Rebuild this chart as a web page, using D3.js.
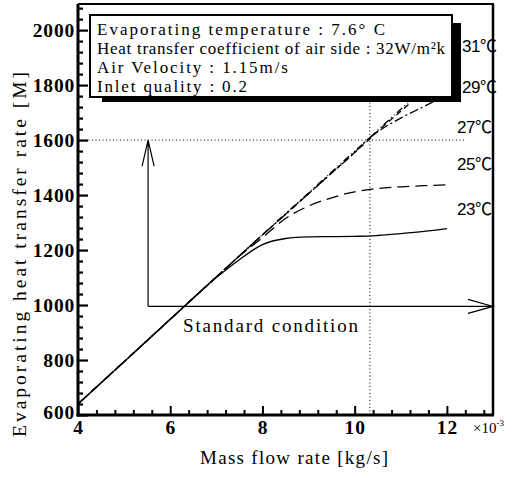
<!DOCTYPE html>
<html><head><meta charset="utf-8">
<script src="https://cdn.jsdelivr.net/npm/d3@7"></script>
<style>
html,body{margin:0;padding:0;background:#fff;}
svg{display:block;}
</style></head>
<body>
<svg id="c" width="518" height="479"></svg>
<script>
// ---- data ----
const massFlow = [4, 5, 6, 7, 7.5, 8, 8.5, 9, 9.5, 10, 10.3, 10.5, 11, 11.5, 12];
const q23 = [640, 794, 948, 1100, 1165, 1220, 1242, 1248, 1249, 1250, 1251, 1253, 1260, 1268, 1278];
const q25 = [640, 794, 948, 1102, 1178, 1245, 1315, 1360, 1390, 1412, 1420, 1424, 1430, 1434, 1437];
const q27 = [640, 794, 948, 1102, 1179, 1255, 1330, 1405, 1480, 1555, 1605, 1630, 1680, 1722, 1765];
const q29 = [640, 794, 948, 1102, 1179, 1255, 1330, 1405, 1480, 1555, 1600, 1632, 1705, 1778, 1850];
const q31 = [640, 794, 948, 1102, 1179, 1256, 1332, 1408, 1484, 1560, 1604, 1636, 1712, 1788, 1864];
const seriesNames = ["23℃", "25℃", "27℃", "29℃", "31℃"];
const xTicks = [4, 6, 8, 10, 12];
const yTicks = [600, 800, 1000, 1200, 1400, 1600, 1800, 2000];
const legendLines = ["Evaporating temperature : 7.6° C",
  "Heat transfer coefficient of air side : 32W/m²k",
  "Air Velocity : 1.15m/s",
  "Inlet quality : 0.2"];
const stdPoint = {x: 10.33, y: 1600};
const stdArrow = {x0: 5.52, y0: 995, yTop: 1600, xEnd: 13};

// ---- layout ----
const svg = d3.select("#c");
const L = 78, R = 493, T = 4, B = 415;
const x = d3.scaleLinear().domain([4, 13]).range([L, R]);
const y = d3.scaleLinear().domain([600, 2095]).range([B, T]);
const serif = "'Liberation Serif', 'Times New Roman', serif";

// widen text to a target width with letter spacing (reference face is wider than Times)
function spread(sel, w) {
  const n = sel.node();
  const len = n.getComputedTextLength();
  const chars = sel.text().length;
  if (len > 0 && chars > 1) sel.attr("letter-spacing", Math.max(-0.5, (w - len) / (chars - 1)).toFixed(2));
  return sel;
}

// dotted crosshair
svg.append("line").attr("x1", x(4)).attr("x2", x(12.37)).attr("y1", y(stdPoint.y)).attr("y2", y(stdPoint.y))
  .attr("stroke", "#000").attr("stroke-width", 1).attr("stroke-dasharray", "1,2.5");
svg.append("line").attr("x1", x(stdPoint.x)).attr("x2", x(stdPoint.x)).attr("y1", y(600)).attr("y2", y(1850))
  .attr("stroke", "#000").attr("stroke-width", 1).attr("stroke-dasharray", "1,2.5");

// curves
const line = d3.line().x((d, i) => x(massFlow[i])).y(d => y(d)).curve(d3.curveMonotoneX);
const styles = [
  {data: q31, dash: "7,3,1,3,1,3"},
  {data: q29, dash: "6,4"},
  {data: q27, dash: "9,3,2,3"},
  {data: q25, dash: "12,6"},
  {data: q23, dash: null}
];
styles.forEach(s => {
  svg.append("path").attr("d", line(s.data)).attr("fill", "none").attr("stroke", "#000")
    .attr("stroke-width", 1.3).attr("stroke-dasharray", s.dash);
});

// standard condition arrows
const ax = x(stdArrow.x0), ay = y(stdArrow.y0);
svg.append("path").attr("d", `M${ax},${ay}V${y(stdArrow.yTop)}M${ax - 6},${y(stdArrow.yTop) + 26}L${ax},${y(stdArrow.yTop)}L${ax + 6},${y(stdArrow.yTop) + 26}`)
  .attr("fill", "none").attr("stroke", "#000").attr("stroke-width", 1.2);
const xe = x(stdArrow.xEnd);
svg.append("path").attr("d", `M${ax},${ay}H${xe}M${xe - 25},${ay - 7}L${xe},${ay}L${xe - 25},${ay + 7}`)
  .attr("fill", "none").attr("stroke", "#000").attr("stroke-width", 1.2);
spread(svg.append("text").attr("x", 183).attr("y", 332).attr("font-family", serif).attr("font-size", 19)
  .text("Standard condition"), 175);

// legend box
svg.append("rect").attr("x", 452).attr("y", 23).attr("width", 9).attr("height", 79).attr("fill", "#000");
svg.append("rect").attr("x", 102).attr("y", 96).attr("width", 359).attr("height", 6).attr("fill", "#000");
svg.append("rect").attr("x", 90).attr("y", 15).attr("width", 362).attr("height", 82)
  .attr("fill", "#fff").attr("stroke", "#000").attr("stroke-width", 2);
const legW = [288, 348, 191, 150];
legendLines.forEach((t, i) => spread(svg.append("text").attr("x", 97).attr("y", 35 + i * 19)
  .attr("font-family", serif).attr("font-size", 17).text(t), legW[i]));

// series labels
const labelPos = [{x: 457, y: 215}, {x: 457, y: 170}, {x: 457, y: 133}, {x: 462, y: 93}, {x: 462, y: 52}];
seriesNames.forEach((n, i) => {
  svg.append("text").attr("x", labelPos[i].x).attr("y", labelPos[i].y)
    .attr("font-family", "'Liberation Sans', 'Noto Sans CJK JP', sans-serif").attr("font-size", 17)
    .attr("letter-spacing", -0.5).text(n);
});

// axes
const yMinor = d3.range(600, 2095, 40).filter(v => v % 200 !== 0);
const xMinor = d3.range(0, 23).map(i => 4 + i * 0.4).filter(v => Math.abs(v / 2 - Math.round(v / 2)) > 0.01 && v < 13);
const gy = svg.append("g").attr("transform", `translate(${L},0)`);
gy.call(d3.axisLeft(y).tickValues(yMinor).tickSize(-5).tickFormat(""));
gy.select(".domain").remove();
const gy2 = svg.append("g").attr("transform", `translate(${L},0)`);
gy2.call(d3.axisLeft(y).tickValues(yTicks).tickSize(-10).tickPadding(3).tickFormat(d3.format("d")));
gy2.select(".domain").remove();
[gy, gy2].forEach(g => g.selectAll(".tick line").attr("stroke-width", 2.2));
gy2.selectAll("text").attr("font-family", serif).attr("font-size", 19.5).attr("font-weight", "bold")
  .attr("letter-spacing", 0.8).attr("fill", "#000");
gy2.select(".tick text").attr("dy", "0.2em");

const gx = svg.append("g").attr("transform", `translate(0,${B})`);
gx.call(d3.axisBottom(x).tickValues(xMinor).tickSize(-5).tickFormat(""));
gx.select(".domain").remove();
const gx2 = svg.append("g").attr("transform", `translate(0,${B})`);
gx2.call(d3.axisBottom(x).tickValues(xTicks).tickSize(-9).tickPadding(5).tickFormat(d3.format("d")));
gx2.select(".domain").remove();
[gx, gx2].forEach(g => g.selectAll(".tick line").attr("stroke-width", 2));
gx2.selectAll("text").attr("font-family", serif).attr("font-size", 19.5).attr("font-weight", "bold")
  .attr("letter-spacing", 0.8).attr("fill", "#000");

// frame
svg.append("line").attr("x1", L).attr("x2", L).attr("y1", T).attr("y2", B + 1.5).attr("stroke", "#000").attr("stroke-width", 3);
svg.append("line").attr("x1", L - 1.5).attr("x2", R + 1).attr("y1", B).attr("y2", B).attr("stroke", "#000").attr("stroke-width", 3);
svg.append("line").attr("x1", L).attr("x2", R + 1).attr("y1", T).attr("y2", T).attr("stroke", "#000").attr("stroke-width", 2);
svg.append("line").attr("x1", R).attr("x2", R).attr("y1", T).attr("y2", B).attr("stroke", "#000").attr("stroke-width", 2.5);

// x10^-3
const mult = svg.append("text").attr("x", 473).attr("y", 433).attr("font-family", serif).attr("font-size", 15);
mult.append("tspan").text("×10");
mult.append("tspan").attr("dy", -7).attr("font-size", 9).text("-3");

// axis titles
spread(svg.append("text").attr("x", 200).attr("y", 464).attr("font-family", serif)
  .attr("font-size", 19).text("Mass flow rate [kg/s]"), 188);
spread(svg.append("text").attr("transform", "translate(26,437) rotate(-90)")
  .attr("font-family", serif).attr("font-size", 19.5).text("Evaporating heat transfer rate [M]"), 365);
</script>
</body></html>
